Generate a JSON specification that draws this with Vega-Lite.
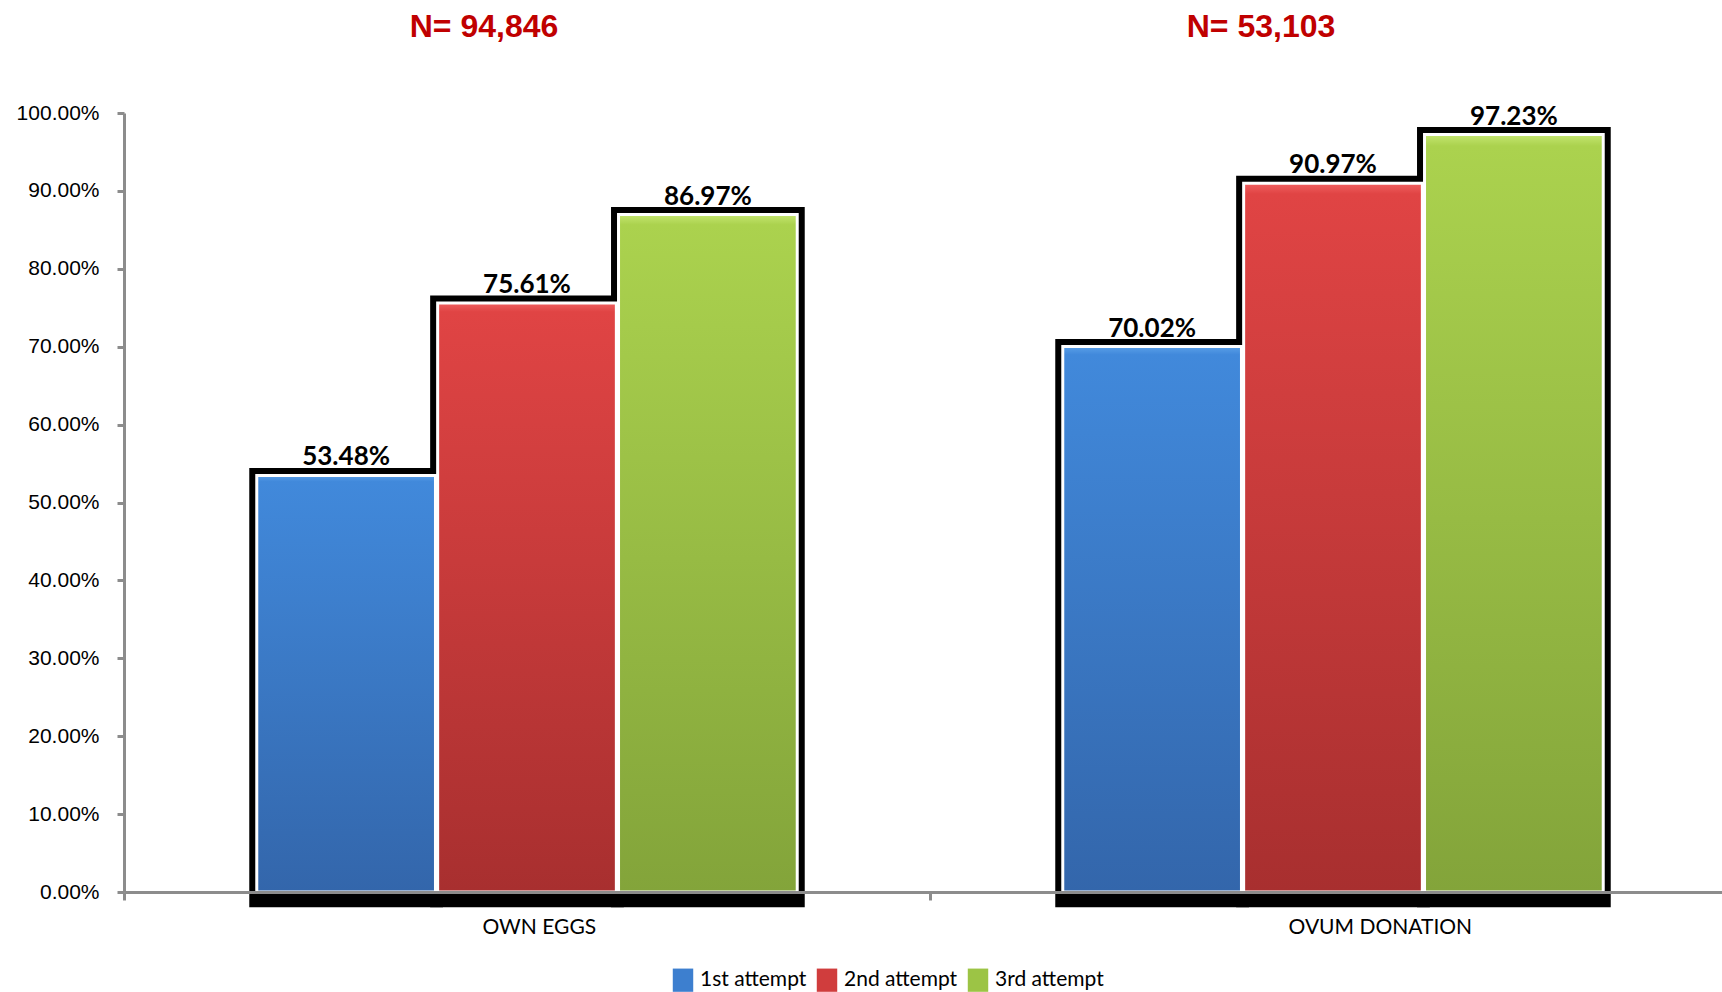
{
  "$schema": "https://vega.github.io/schema/vega-lite/v6.json",
  "width": 1598,
  "height": 779,
  "autosize": {"type": "none"},
  "padding": {"left": 124, "top": 113, "right": 0, "bottom": 100},
  "background": "white",
  "config": {"view": {"stroke": null}},
  "data": {
    "values": [
      {"group": "OWN EGGS", "attempt": "1st attempt", "value": 0.5348},
      {"group": "OWN EGGS", "attempt": "2nd attempt", "value": 0.7561},
      {"group": "OWN EGGS", "attempt": "3rd attempt", "value": 0.8697},
      {"group": "OVUM DONATION", "attempt": "1st attempt", "value": 0.7002},
      {"group": "OVUM DONATION", "attempt": "2nd attempt", "value": 0.9097},
      {"group": "OVUM DONATION", "attempt": "3rd attempt", "value": 0.9723}
    ]
  },
  "layer": [
    {
      "mark": {"type": "bar", "fill": "black", "stroke": "black", "strokeWidth": 15, "strokeJoin": "miter"},
      "encoding": {
        "x": {
          "field": "group", "type": "nominal", "sort": ["OWN EGGS", "OVUM DONATION"],
          "scale": {"range": [0, 1612], "paddingInner": 0, "paddingOuter": 0},
          "axis": {
            "title": null, "labelAngle": 0, "domainColor": "#8c8c8c", "domainWidth": 3,
            "tickBand": "extent", "ticks": true, "tickColor": "#8c8c8c", "tickWidth": 3, "tickSize": 8,
            "labelFont": "Lato", "labelFontSize": 21, "labelColor": "#000000", "labelPadding": 16,
            "labelAlign": "left", "labelOffset": -45, "labelLimit": 500, "zindex": 1
          }
        },
        "xOffset": {
          "field": "attempt", "type": "nominal", "sort": ["1st attempt", "2nd attempt", "3rd attempt"],
          "scale": {"paddingInner": 0.012, "paddingOuter": 0.734}
        },
        "y": {
          "field": "value", "type": "quantitative",
          "scale": {"domain": [0, 1], "nice": false, "zero": true},
          "axis": {
            "title": null, "values": [0, 0.1, 0.2, 0.3, 0.4, 0.5, 0.6, 0.7, 0.8, 0.9, 1],
            "format": ".2%", "domainColor": "#8c8c8c", "domainWidth": 3,
            "tickColor": "#8c8c8c", "tickWidth": 3, "tickSize": 7,
            "labelFont": "Liberation Sans", "labelFontSize": 21, "labelColor": "#000000",
            "labelPadding": 18, "grid": false, "labelFlush": false, "labelOverlap": false, "zindex": 1
          }
        },
        "y2": {"datum": -0.01}
      }
    },
    {
      "transform": [{"filter": "datum.attempt === '1st attempt'"}],
      "mark": {
        "type": "bar", "stroke": "white", "strokeWidth": 3,
        "fill": {"gradient": "linear", "x1": 0, "y1": 0, "x2": 0, "y2": 1,
          "stops": [{"offset": 0, "color": "#5a9fe8"}, {"offset": 0.015, "color": "#4189db"}, {"offset": 1, "color": "#3366ab"}]}
      },
      "encoding": {
        "x": {"field": "group", "type": "nominal", "sort": ["OWN EGGS", "OVUM DONATION"]},
        "xOffset": {"field": "attempt", "type": "nominal", "sort": ["1st attempt", "2nd attempt", "3rd attempt"]},
        "y": {"field": "value", "type": "quantitative"}
      }
    },
    {
      "transform": [{"filter": "datum.attempt === '2nd attempt'"}],
      "mark": {
        "type": "bar", "stroke": "white", "strokeWidth": 3,
        "fill": {"gradient": "linear", "x1": 0, "y1": 0, "x2": 0, "y2": 1,
          "stops": [{"offset": 0, "color": "#f06060"}, {"offset": 0.015, "color": "#e04444"}, {"offset": 1, "color": "#a82f2f"}]}
      },
      "encoding": {
        "x": {"field": "group", "type": "nominal", "sort": ["OWN EGGS", "OVUM DONATION"]},
        "xOffset": {"field": "attempt", "type": "nominal", "sort": ["1st attempt", "2nd attempt", "3rd attempt"]},
        "y": {"field": "value", "type": "quantitative"}
      }
    },
    {
      "transform": [{"filter": "datum.attempt === '3rd attempt'"}],
      "mark": {
        "type": "bar", "stroke": "white", "strokeWidth": 3,
        "fill": {"gradient": "linear", "x1": 0, "y1": 0, "x2": 0, "y2": 1,
          "stops": [{"offset": 0, "color": "#c4e670"}, {"offset": 0.015, "color": "#abd24e"}, {"offset": 1, "color": "#83a43a"}]}
      },
      "encoding": {
        "x": {"field": "group", "type": "nominal", "sort": ["OWN EGGS", "OVUM DONATION"]},
        "xOffset": {"field": "attempt", "type": "nominal", "sort": ["1st attempt", "2nd attempt", "3rd attempt"]},
        "y": {"field": "value", "type": "quantitative"}
      }
    },
    {
      "mark": {"type": "bar", "opacity": 0},
      "encoding": {
        "x": {"field": "group", "type": "nominal", "sort": ["OWN EGGS", "OVUM DONATION"]},
        "xOffset": {"field": "attempt", "type": "nominal", "sort": ["1st attempt", "2nd attempt", "3rd attempt"]},
        "y": {"field": "value", "type": "quantitative"},
        "color": {
          "field": "attempt", "type": "nominal",
          "scale": {"domain": ["1st attempt", "2nd attempt", "3rd attempt"], "range": ["#3d7fcf", "#d03d3d", "#9cc445"]},
          "legend": {
            "title": null, "orient": "none", "direction": "horizontal", "legendX": 547, "legendY": 855,
            "symbolType": "M-0.88,-1H0.88V1H-0.88Z", "symbolSize": 540, "symbolOpacity": 1, "symbolStrokeWidth": 0,
            "labelFont": "Lato", "labelFontSize": 21, "labelColor": "#000000", "labelOffset": 5,
            "columnPadding": 8, "padding": 0
          }
        }
      }
    },
    {
      "mark": {"type": "text", "font": "Lato", "fontWeight": "bold", "fontSize": 26, "color": "#000000", "baseline": "alphabetic", "dy": -10},
      "encoding": {
        "x": {"field": "group", "type": "nominal", "sort": ["OWN EGGS", "OVUM DONATION"]},
        "xOffset": {"field": "attempt", "type": "nominal", "sort": ["1st attempt", "2nd attempt", "3rd attempt"]},
        "y": {"field": "value", "type": "quantitative"},
        "text": {"field": "value", "type": "quantitative", "format": ".2%"}
      }
    },
    {
      "data": {"values": [{"group": "OWN EGGS", "n": "N= 94,846"}]},
      "mark": {"type": "text", "font": "Liberation Sans", "fontWeight": "bold", "fontSize": 32, "color": "#c00000", "baseline": "alphabetic", "dx": -43},
      "encoding": {
        "x": {"field": "group", "type": "nominal", "sort": ["OWN EGGS", "OVUM DONATION"]},
        "y": {"datum": 1.0976},
        "text": {"field": "n"}
      }
    },
    {
      "data": {"values": [{"group": "OVUM DONATION", "n": "N= 53,103"}]},
      "mark": {"type": "text", "font": "Liberation Sans", "fontWeight": "bold", "fontSize": 32, "color": "#c00000", "baseline": "alphabetic", "dx": -72},
      "encoding": {
        "x": {"field": "group", "type": "nominal", "sort": ["OWN EGGS", "OVUM DONATION"]},
        "y": {"datum": 1.0976},
        "text": {"field": "n"}
      }
    }
  ]
}
